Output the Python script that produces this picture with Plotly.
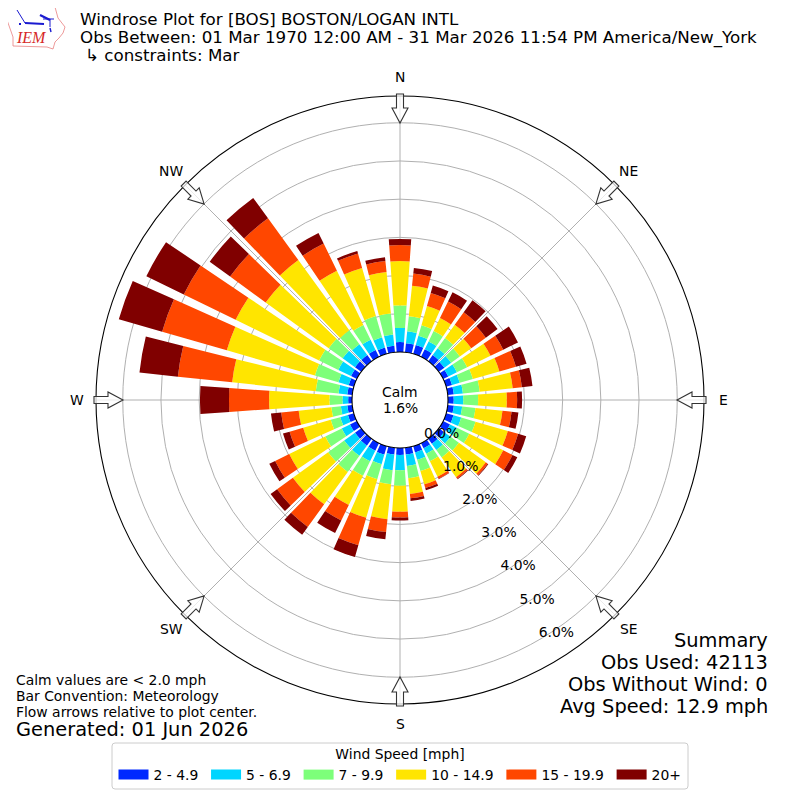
import math

import numpy as np
import plotly.graph_objects as go

FONT = "DejaVu Sans"
SIZE = 800
PAGE_MARGIN = 8  # the browser page keeps its default body margin
COMPASS_LABEL_PX = 323.5  # distance of N, NE, ... from the plot center

directions = list(range(10, 370, 10))
compass_angles = [0, 45, 90, 135, 180, 225, 270, 315]
compass_names = ["N", "NE", "E", "SE", "S", "SW", "W", "NW"]
radial_ticks = [0, 1, 2, 3, 4, 5, 6]
radial_labels = ["0.0%", "1.0%", "2.0%", "3.0%", "4.0%", "5.0%", "6.0%"]

bin_names = ["2 - 4.9\u2009", "5 - 6.9\u2009", "7 - 9.9\u2009", "10 - 14.9\u2009", "15 - 19.9\u2009", "20+"]
bin_colors = ["#0029ff", "#00d5ff", "#7dff7a", "#ffe500", "#ff4700", "#800000"]

# stacked tops of each speed bin in percent, 10 deg to 360 deg
top_2_5 = [.24, .24, .22, .20, .18, .15, .16, .16, .15, .16, .20, .20, .17, .16, .15, .17, .18, .18,
           .18, .23, .22, .22, .20, .20, .16, .13, .10, .13, .14, .17, .20, .20, .20, .17, .17, .26]
top_5_7 = [.55, .49, .45, .42, .40, .40, .37, .40, .40, .38, .41, .40, .38, .36, .31, .37, .48, .58,
           .59, .49, .53, .55, .55, .44, .37, .30, .25, .36, .42, .54, .60, .55, .50, .45, .47, .63]
top_7_10 = [.95, .78, .75, .75, .68, .70, .73, .84, .79, .73, .80, .76, .65, .60, .53, .68, .80, .99,
            .96, .90, .95, 1.07, 1.07, .92, .63, .55, .59, .96, 1.06, 1.10, 1.05, 1.00, .93, 1.03, 1.02, 1.22]
top_10_15 = [1.75, 1.30, 1.13, 1.18, 1.05, 1.38, 1.45, 1.71, 1.54, 1.44, 1.68, 1.75, 1.52, 1.24, .98, 1.04, 1.22, 1.67,
             1.88, 1.95, 1.80, 2.12, 2.21, 1.97, 1.38, 1.41, 2.17, 3.16, 3.46, 3.53, 3.09, 3.27, 2.51, 2.34, 2.11, 2.38]
top_15_20 = [2.07, 1.66, 1.61, 1.58, 1.52, 1.75, 1.90, 1.95, 1.81, 1.68, 1.96, 2.02, 1.58, 1.29, 1.04, 1.14, 1.33, 1.82,
             2.22, 2.70, 2.25, 2.85, 2.72, 2.38, 1.75, 1.87, 3.22, 4.59, 5.22, 5.04, 4.24, 4.62, 3.30, 2.73, 2.40, 2.80]
top_20_up = [2.22, 1.86, 1.88, 1.97, 1.90, 2.18, 2.19, 2.23, 1.94, 1.86, 2.18, 2.16, 1.60, 1.31, 1.05, 1.20, 1.40, 1.90,
             2.41, 3.02, 2.62, 3.10, 2.93, 2.55, 1.93, 2.14, 3.98, 5.60, 6.40, 6.13, 4.90, 5.28, 3.61, 2.80, 2.50, 2.96]

bin_tops = [top_2_5, top_5_7, top_7_10, top_10_15, top_15_20, top_20_up]

title_lines = [
    "Windrose Plot for [BOS] BOSTON/LOGAN INTL",
    "Obs Between: 01 Mar 1970 12:00 AM - 31 Mar 2026 11:54 PM America/New_York",
    "↳ constraints: Mar",
]
summary_lines = ["Summary", "Obs Used: 42113", "Obs Without Wind: 0", "Avg Speed: 12.9 mph"]
note_lines = ["Calm values are &lt; 2.0 mph", "Bar Convention: Meteorology", "Flow arrows relative to plot center."]


def px_x(x):
    return (x - PAGE_MARGIN) / SIZE


def px_y(y):
    return 1 - (y - PAGE_MARGIN) / SIZE


def path_from_px(points, close=True):
    coords = [f"{px_x(x):.5f},{px_y(y):.5f}" for x, y in points]
    return "M" + " L".join(coords) + (" Z" if close else "")


def label(text, x, y, size, anchor="left", **font_kw):
    return dict(
        text=text, x=px_x(x), y=px_y(y), xref="paper", yref="paper", showarrow=False,
        xanchor=anchor, yanchor="middle", align=anchor, borderpad=0, borderwidth=0,
        font=dict(family=font_kw.pop("family", FONT), size=size, color=font_kw.pop("color", "#000000")),
    )


def flow_arrow(angle):
    # outlined arrow on the outer ring, pointing at the plot center
    a = math.radians(angle)
    ux, uy = math.sin(a), -math.cos(a)
    vx, vy = -uy, ux
    outline = [(306, 3.5), (292, 3.5), (292, 8), (277, 0), (292, -8), (292, -3.5), (306, -3.5)]
    points = [(400 + r * ux + w * vx, 400 + r * uy + w * vy) for r, w in outline]
    return dict(type="path", xref="paper", yref="paper", path=path_from_px(points),
                fillcolor="rgba(255,255,255,0.75)", line=dict(color="#333333", width=1.1), layer="above")


fig = go.Figure()

previous = np.zeros(len(directions))
for name, color, tops in zip(bin_names, bin_colors, bin_tops):
    tops = np.array(tops)
    fig.add_trace(go.Barpolar(
        theta=directions, r=tops - previous, base=previous, width=8,
        marker=dict(color=color, line=dict(width=0)), showlegend=False, hoverinfo="skip",
    ))
    # wide legend swatches need a line trace, bars only get a small square
    fig.add_trace(go.Scatterpolar(
        theta=[0], r=[0], mode="lines", name=name, line=dict(color=color, width=10), hoverinfo="skip",
    ))
    previous = tops

# axis tick labels sit too far from the ray here, so they are a text trace
fig.add_trace(go.Scatterpolar(
    theta=[150] * len(radial_ticks), r=radial_ticks, mode="text", text=radial_labels, textposition="top right",
    textfont=dict(family=FONT, size=13.9, color="#000000"), showlegend=False, hoverinfo="skip", cliponaxis=False,
))

shapes = [flow_arrow(angle) for angle in compass_angles]

# legend frame, plotly legends have no rounded corners
x0, x1, y0, y1, c = 112, 688, 743, 789, 3
shapes.append(dict(
    type="path", xref="paper", yref="paper", layer="below",
    path=(f"M{px_x(x0 + c)},{px_y(y0)} L{px_x(x1 - c)},{px_y(y0)} Q{px_x(x1)},{px_y(y0)} {px_x(x1)},{px_y(y0 + c)} "
          f"L{px_x(x1)},{px_y(y1 - c)} Q{px_x(x1)},{px_y(y1)} {px_x(x1 - c)},{px_y(y1)} "
          f"L{px_x(x0 + c)},{px_y(y1)} Q{px_x(x0)},{px_y(y1)} {px_x(x0)},{px_y(y1 - c)} "
          f"L{px_x(x0)},{px_y(y0 + c)} Q{px_x(x0)},{px_y(y0)} {px_x(x0 + c)},{px_y(y0)} Z"),
    fillcolor="#ffffff", line=dict(color="#cccccc", width=1),
))

# IEM logo
logo_outline = [(7, 7), (55, 7), (58, 18), (65, 27), (63, 33), (59, 38), (55, 42), (53, 49), (47, 47), (13, 46),
                (13, 37), (7, 20)]
shapes.append(dict(type="path", xref="paper", yref="paper", path=path_from_px(logo_outline),
                   line=dict(color="#e88080", width=0.8), fillcolor="#ffffff"))
logo_strokes = [
    ([(25, 23), (44, 24)], 2.2),
    ([(17, 10), (25, 23)], 1),
    ([(40, 15), (50, 20)], 2.2),
    ([(43, 19), (54, 19)], 1),
    ([(50, 19), (50, 27)], 1),
    ([(50, 28), (51, 32)], 1.4),
    ([(19, 24), (21, 24)], 2),
]
for points, width in logo_strokes:
    shapes.append(dict(type="path", xref="paper", yref="paper", path=path_from_px(points, close=False),
                       line=dict(color="#1a1ad0", width=width)))

annotations = [
    label(title_lines[0], 80, 19, 16.7),
    label(title_lines[1], 80, 37, 16.7),
    label(title_lines[2], 85, 55, 16.7),
    label("<i>IEM</i>", 16, 38, 16, family="Liberation Serif", color="#d62828"),
    label("Calm", 400, 392, 13.9, anchor="center"),
    label("1.6%", 400, 408, 13.9, anchor="center"),
]
for name, angle in zip(compass_names, compass_angles):
    a = math.radians(angle)
    annotations.append(label(name, 400 + COMPASS_LABEL_PX * math.sin(a), 400 - COMPASS_LABEL_PX * math.cos(a),
                             13.9, anchor="center"))
for line, y in zip(summary_lines, [640, 662, 684, 706]):
    annotations.append(label(line, 768, y, 19.4, anchor="right"))
for line, y in zip(note_lines, [680, 696, 712]):
    annotations.append(label(line, 16, y, 13.9))
annotations.append(label("Generated: 01 Jun 2026", 16, 729, 19.4))

fig.update_layout(
    width=SIZE,
    height=SIZE,
    margin=dict(l=0, r=0, t=0, b=0),
    paper_bgcolor="#ffffff",
    font=dict(family=FONT, size=13.9, color="#000000"),
    polar=dict(
        domain=dict(x=[px_x(96), px_x(704)], y=[px_y(704), px_y(96)]),
        hole=48 / 304,
        bgcolor="#ffffff",
        radialaxis=dict(
            range=[0, 6.7], tickmode="array", tickvals=radial_ticks, showticklabels=False, showline=False,
            ticks="", gridcolor="#b0b0b0", gridwidth=1.1, layer="above traces",
        ),
        angularaxis=dict(
            direction="clockwise", rotation=90, tickmode="array", tickvals=compass_angles, showticklabels=False,
            ticks="", gridcolor="#b0b0b0", gridwidth=1.1, linecolor="#000000", linewidth=1.1, layer="above traces",
        ),
    ),
    showlegend=True,
    legend=dict(
        orientation="h", x=px_x(400), xanchor="center", y=px_y(741), yanchor="top", bgcolor="rgba(0,0,0,0)",
        borderwidth=0, title=dict(text="Wind Speed [mph]", side="top center", font=dict(family=FONT, size=13.9)),
        font=dict(family=FONT, size=13.9), itemwidth=30, tracegroupgap=0,
    ),
    shapes=shapes,
    annotations=annotations,
)

fig.write_html("out.html")
